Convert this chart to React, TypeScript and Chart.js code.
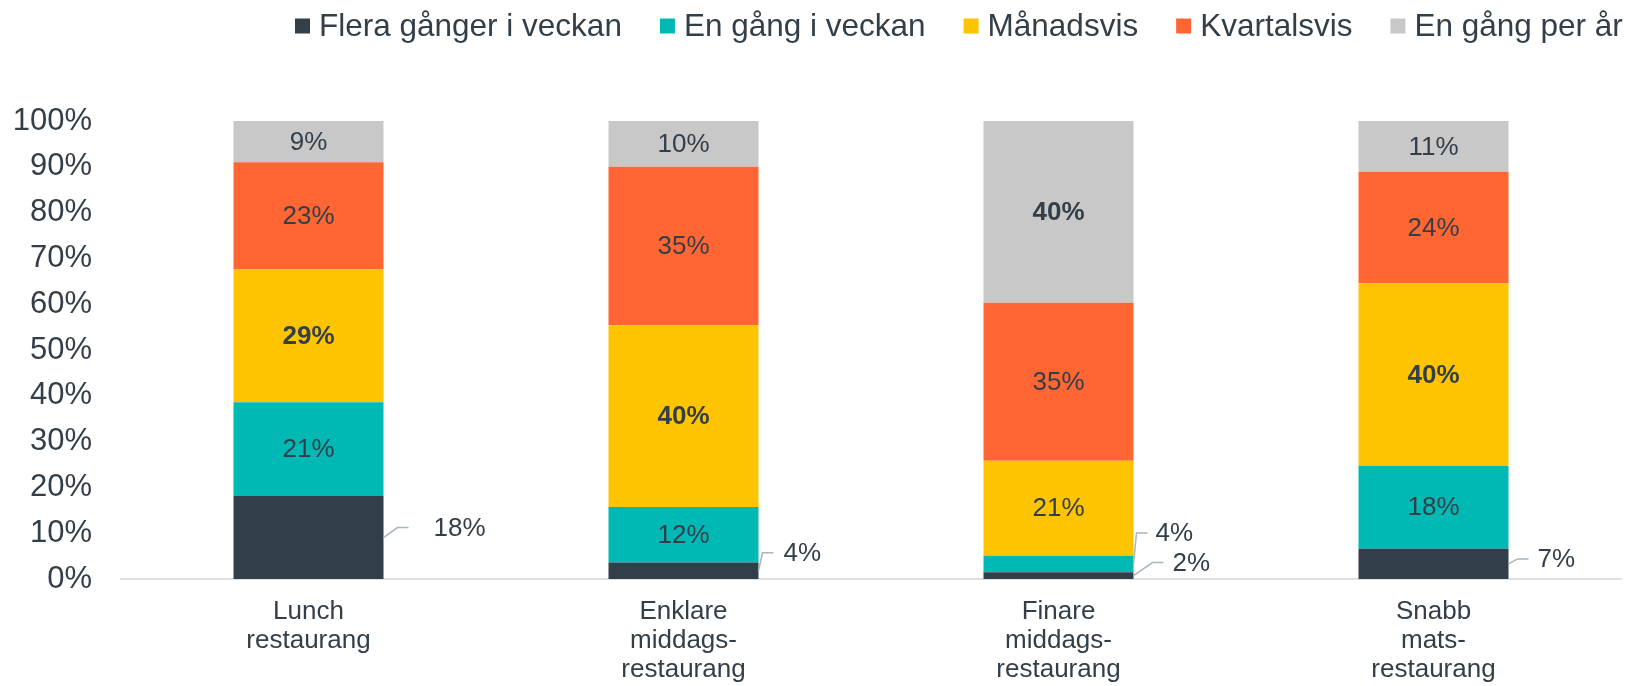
import React, { useEffect, useRef } from 'react';
import { Chart, registerables } from 'chart.js';

Chart.register(...registerables);

// ---- data ----
const categories: string[][] = [
  ['Lunch', 'restaurang'],
  ['Enklare', 'middags-', 'restaurang'],
  ['Finare', 'middags-', 'restaurang'],
  ['Snabb', 'mats-', 'restaurang'],
];
const seriesNames = ['Flera gånger i veckan', 'En gång i veckan', 'Månadsvis', 'Kvartalsvis', 'En gång per år'];
const fleraGanger = [18.1, 3.6, 1.5, 6.6];
const enGangVeckan = [20.5, 12.1, 3.6, 18.1];
const manadsvis = [29.0, 39.7, 20.7, 39.9];
const kvartalsvis = [23.4, 34.6, 34.5, 24.3];
const enGangAr = [9.0, 10.0, 39.7, 11.1];
const yTickValues = [0, 10, 20, 30, 40, 50, 60, 70, 80, 90, 100];

// ---- styles ----
const seriesColors = ['#333F48', '#00B9B4', '#FFC400', '#FF6633', '#C8C8C8'];
const TEXT = '#333F48';
const FONT = '"Liberation Sans", Arial, sans-serif';
// outside labels with leader lines (dataset, category, elbow dx/dy, line length, text gap)
const outsideLabels = [
  { ds: 0, i: 0, ex: 14, ey: -10, len: 11, gap: 25 },
  { ds: 0, i: 1, ex: 4, ey: -18, len: 11, gap: 10 },
  { ds: 1, i: 2, ex: 3, ey: -31, len: 11, gap: 8 },
  { ds: 0, i: 2, ex: 19, ey: -13, len: 11, gap: 9 },
  { ds: 0, i: 3, ex: 9, ey: -5, len: 11, gap: 9 },
];

const labelPlugin = {
  id: 'segLabels',
  afterDatasetsDraw(chart: any) {
    const ctx = chart.ctx;
    const datasets = chart.data.datasets;
    const n = chart.data.labels.length;
    ctx.save();
    ctx.fillStyle = TEXT;
    for (let i = 0; i < n; i++) {
      let maxDs = 0;
      datasets.forEach((d: any, k: number) => {
        if (d.data[i] > datasets[maxDs].data[i]) maxDs = k;
      });
      datasets.forEach((d: any, k: number) => {
        const el = chart.getDatasetMeta(k).data[i];
        const v = d.data[i];
        const txt = Math.round(v) + '%';
        const cy = (el.y + el.base) / 2;
        const right = el.x + el.width / 2;
        const out = outsideLabels.find((o) => o.ds === k && o.i === i);
        ctx.font = (k === maxDs ? 'bold ' : '') + '26px ' + FONT;
        ctx.textBaseline = 'middle';
        if (out) {
          ctx.strokeStyle = '#A9B5BF';
          ctx.lineWidth = 1.5;
          ctx.beginPath();
          ctx.moveTo(right, cy);
          ctx.lineTo(right + out.ex, cy + out.ey);
          ctx.lineTo(right + out.ex + out.len, cy + out.ey);
          ctx.stroke();
          ctx.textAlign = 'left';
          ctx.fillText(txt, right + out.ex + out.len + out.gap, cy + out.ey + 1);
        } else {
          ctx.textAlign = 'center';
          ctx.fillText(txt, el.x, cy + 1);
        }
      });
    }
    ctx.restore();
  },
};

const legendPlugin = {
  id: 'topLegend',
  afterDraw(chart: any) {
    const ctx = chart.ctx;
    ctx.save();
    ctx.font = '31.5px ' + FONT;
    ctx.textBaseline = 'middle';
    ctx.textAlign = 'left';
    let x = 295;
    const cy = 26;
    chart.data.datasets.forEach((d: any) => {
      ctx.fillStyle = d.backgroundColor;
      ctx.fillRect(x, cy - 7.5, 15, 15);
      x += 15 + 9;
      ctx.fillStyle = TEXT;
      ctx.fillText(d.label, x, cy + 1);
      x += ctx.measureText(d.label).width + 38;
    });
    ctx.restore();
  },
};

export default function App() {
  const ref = useRef<HTMLCanvasElement>(null);
  useEffect(() => {
    if (!ref.current) return;
    const datasetsValues = [fleraGanger, enGangVeckan, manadsvis, kvartalsvis, enGangAr];
    const chart = new Chart(ref.current, {
      type: 'bar',
      data: {
        labels: categories,
        datasets: datasetsValues.map((vals, k) => ({
          label: seriesNames[k],
          data: vals,
          backgroundColor: seriesColors[k],
          borderWidth: 0,
          categoryPercentage: 1,
          barPercentage: 0.4,
        })),
      },
      options: {
        responsive: false,
        animation: false,
        events: [],
        layout: { padding: { left: 0, right: 11, top: 121, bottom: 0 } },
        plugins: {
          legend: { display: false },
          tooltip: { enabled: false },
          title: { display: false },
        },
        scales: {
          x: {
            stacked: true,
            grid: { display: false, drawTicks: false },
            border: { display: true, color: '#DCE1E5', width: 2 },
            ticks: {
              color: TEXT,
              font: { family: FONT, size: 26, lineHeight: 1.1 },
              padding: 19,
              maxRotation: 0,
              autoSkip: false,
            },
            afterFit: (s: any) => {
              s.height = 107;
            },
          },
          y: {
            stacked: true,
            min: 0,
            max: 100,
            afterBuildTicks: (s: any) => {
              s.ticks = yTickValues.map((v) => ({ value: v }));
            },
            grid: { display: false, drawTicks: false },
            border: { display: false },
            ticks: {
              color: TEXT,
              font: { family: FONT, size: 31 },
              padding: 29,
              callback: (v: any) => v + '%',
            },
            afterFit: (s: any) => {
              s.width = 121;
            },
          },
        },
      },
      plugins: [labelPlugin, legendPlugin],
    });
    return () => chart.destroy();
  }, []);
  return (
    <div style={{ position: 'fixed', left: 0, top: 0, width: 1632, height: 686, background: '#fff' }}>
      <canvas ref={ref} width={1632} height={686} style={{ display: 'block' }} />
    </div>
  );
}
